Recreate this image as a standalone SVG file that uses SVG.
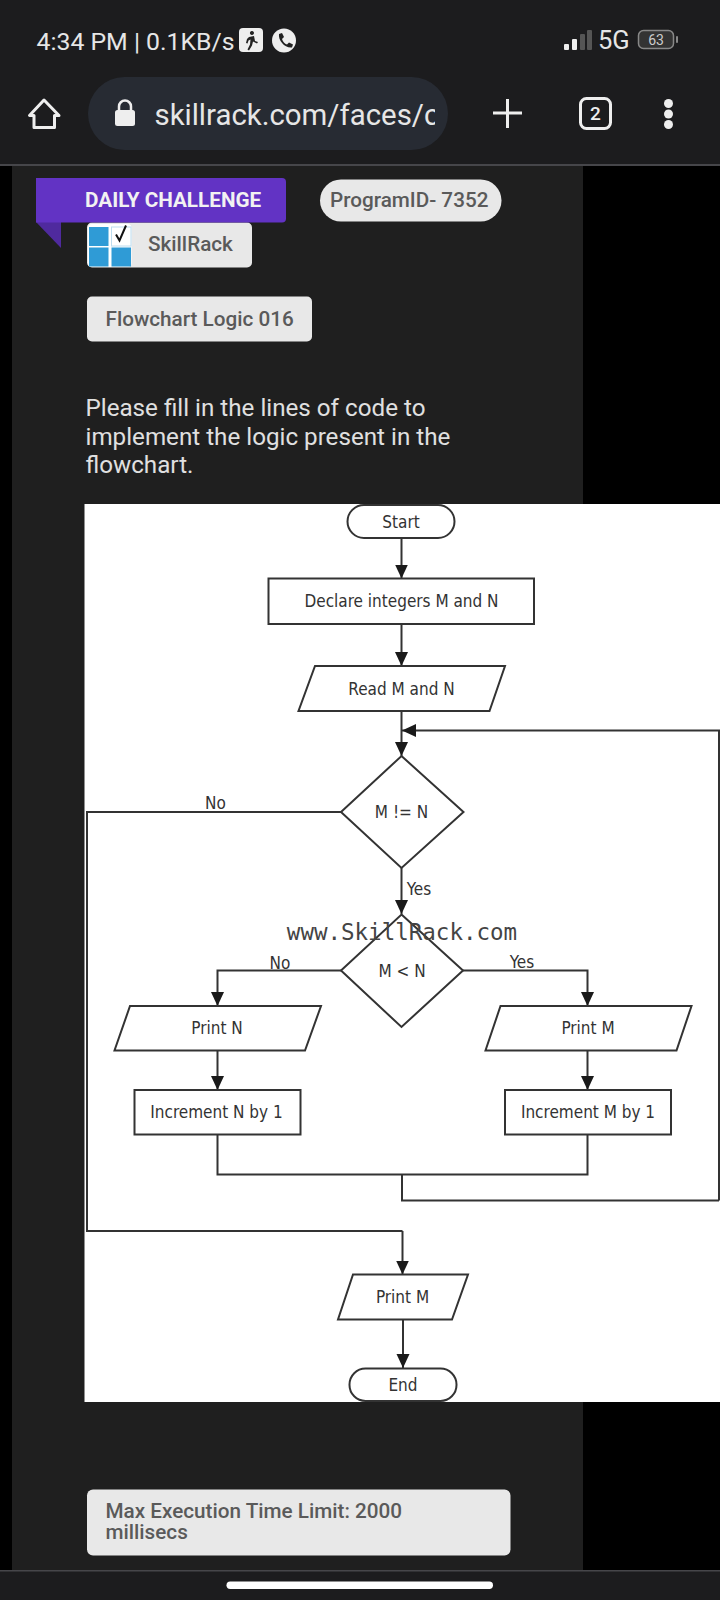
<svg xmlns="http://www.w3.org/2000/svg" width="720" height="1600" viewBox="0 0 720 1600">
<style>
.ui{font-family:Roboto,"Liberation Sans",sans-serif}
.chip{font-family:Roboto,"Liberation Sans",sans-serif;font-weight:500;fill:#5a5a5a;font-size:20.700px}
.box{fill:#e8e8e8}
.shape{fill:#fff;stroke:#333;stroke-width:2}
.fc{font-family:"DejaVu Sans Condensed","DejaVu Sans",sans-serif;font-stretch:condensed;font-size:17px;fill:#333;text-anchor:middle}
.lbl{font-family:"DejaVu Sans Condensed","DejaVu Sans",sans-serif;font-stretch:condensed;font-size:17px;fill:#333;text-anchor:middle}
.conn{fill:none;stroke:#333;stroke-width:2}
.arr{marker-end:url(#ah)}
.icon{fill:#eee}
</style>
<defs>
<marker id="ah" markerUnits="userSpaceOnUse" markerWidth="15" markerHeight="15" refX="14" refY="7" orient="auto"><path d="M0 0.500L14 7L0 13.500Z" fill="#1a1a1a"/></marker>
<clipPath id="urlclip"><rect x="150" y="90" width="285" height="50"/></clipPath>
</defs>
<rect width="720" height="1600" fill="#000"/>
<rect x="12" y="165" width="571" height="1406" fill="#1f1f1f"/>
<g id="statusbar">
<rect width="720" height="165" fill="#1c1c1e"/>
<rect y="164" width="720" height="2" fill="#46464a"/>
<text class="ui" x="36.500" y="50" font-size="24.800" fill="#e6e6e6">4:34 PM | 0.1KB/s</text>
<rect x="239" y="28" width="24" height="24" rx="4" fill="#eee"/>
<path d="M252 31a2 2 0 1 1-.1 0M249 37l5-1 1 5 3 1-1 1.500-4-2-1 4-3 5-1.500-1 2.500-5 .5-5-2 1-1 3-1.500-.5 1-4Z" fill="#222"/>
<circle cx="284" cy="40.500" r="12" fill="#eee"/>
<path d="M279 34l3-1 2 4-2 2c1 3 2.500 4.500 5 5.500l2-2 4 2-1 3c-7 1-14-7-13-13.500Z" fill="#222"/>
<rect x="564" y="44" width="5" height="6" rx="1" fill="#eee"/>
<rect x="572" y="39" width="5" height="11" rx="1" fill="#eee"/>
<rect x="580" y="34" width="5" height="16" rx="1" fill="#555"/>
<rect x="587" y="30" width="5" height="20" rx="1" fill="#555"/>
<text class="ui" x="598" y="49" font-size="25.500" fill="#e6e6e6">5G</text>
<rect x="638.500" y="30.500" width="35" height="18" rx="5" fill="#333" stroke="#888" stroke-width="1.500"/>
<text class="ui" x="656" y="45" font-size="14" fill="#ccc" text-anchor="middle">63</text>
<rect x="676" y="36" width="2" height="7" rx="1" fill="#888"/>
</g>
<g id="toolbar">
<path d="M44 100L29.500 115.500H34V127.500H54.500V115.500H59Z" fill="none" stroke="#eee" stroke-width="3" stroke-linejoin="round"/>
<rect x="88" y="77" width="360" height="73" rx="36.500" fill="#272b33"/>
<rect x="115" y="110" width="20" height="16" rx="2.500" class="icon"/>
<path d="M119 110v-3.500a6 6 0 0 1 12 0V110" fill="none" stroke="#eee" stroke-width="2.500"/>
<text class="ui" x="154.500" y="125" font-size="29.400" fill="#e6e6e6" clip-path="url(#urlclip)">skillrack.com/faces/c</text>
<path d="M493 113H522M507.500 99V128" stroke="#eee" stroke-width="3" fill="none"/>
<rect x="580.500" y="98.500" width="30" height="30" rx="6" fill="none" stroke="#eee" stroke-width="3"/>
<text class="ui" x="595.500" y="120" font-size="19" font-weight="500" fill="#eee" text-anchor="middle">2</text>
<circle cx="668.500" cy="103.500" r="4.500" class="icon"/>
<circle cx="668.500" cy="114" r="4.500" class="icon"/>
<circle cx="668.500" cy="124.500" r="4.500" class="icon"/>
</g>
<g id="skillrack">
<rect x="87" y="222.500" width="165" height="45" rx="5" class="box"/>
<rect x="88" y="224" width="43.500" height="43" rx="4" fill="#fff"/>
<rect x="89" y="227" width="19.500" height="19" fill="#2f9bd6"/>
<rect x="111.500" y="227" width="19.500" height="19" fill="#fff" stroke="#bcdcef"/>
<rect x="89" y="247.500" width="19.500" height="19" fill="#2f9bd6"/>
<rect x="111.500" y="247.500" width="19.500" height="19" fill="#2f9bd6"/>
<path d="M116 234.500l3.500 6 6.500-15" fill="none" stroke="#111" stroke-width="2"/>
<text class="chip" x="148" y="251">SkillRack</text>
</g>
<g id="daily-challenge">
<path d="M36 222L61 248V222Z" fill="#4f2a9e"/>
<path d="M36 178H282a4 4 0 0 1 4 4V218.500a4 4 0 0 1-4 4H36Z" fill="#6233c4"/>
<text class="ui" x="85" y="206.500" font-size="20.700" font-weight="700" fill="#f2f2f2">DAILY CHALLENGE</text>
</g>
<g id="program-id">
<rect x="320" y="179.500" width="181.500" height="42" rx="21" class="box"/>
<text class="chip" x="330" y="206.500">ProgramID- 7352</text>
</g>
<g id="flowchart-logic">
<rect x="87" y="296.500" width="225" height="45" rx="5" class="box"/>
<text class="chip" x="105.500" y="325.500">Flowchart Logic 016</text>
</g>
<g id="instructions" class="ui" font-size="24.200" fill="#e0e0e0">
<text x="85.500" y="416">Please fill in the lines of code to</text>
<text x="85.500" y="445">implement the logic present in the</text>
<text x="85.500" y="473">flowchart.</text>
</g>
<rect id="chart-bg" x="84.500" y="504" width="635.500" height="898" fill="#fff"/>
<g id="connectors">
<path class="conn arr" d="M401.500 538V578.500"/>
<path class="conn arr" d="M401.500 624V666"/>
<path class="conn arr" d="M401.500 711V756"/>
<path class="conn arr" d="M719 1200.500V730.500H402"/>
<path class="conn arr" d="M401.500 868V914"/>
<path class="conn" d="M341 812H87V1231H402.500"/>
<path class="conn arr" d="M402.500 1231V1274.500"/>
<path class="conn arr" d="M341 970.500H217.500V1006"/>
<path class="conn arr" d="M463 970.500H587.500V1006"/>
<path class="conn arr" d="M217.500 1050.500V1090"/>
<path class="conn arr" d="M587.500 1050.500V1090"/>
<path class="conn" d="M217.500 1134.500V1174.500H587.500V1134.500"/>
<path class="conn" d="M402 1174.500V1200.500H719"/>
<path class="conn arr" d="M403 1319.500V1368"/>
<text class="lbl" x="215.500" y="809">No</text>
<text class="lbl" x="419" y="895">Yes</text>
<text class="lbl" x="280" y="968.500">No</text>
<text class="lbl" x="522" y="968">Yes</text>
</g>
<g id="start"><rect class="shape" x="347.500" y="505" width="107" height="33" rx="16.500"/><text class="fc" x="401" y="528">Start</text></g>
<g id="declare"><rect class="shape" x="268.500" y="578.500" width="265.500" height="45.500"/><text class="fc" x="401.500" y="607">Declare integers M and N</text></g>
<g id="read"><path class="shape" d="M315 666H505L489.500 711H298.500Z"/><text class="fc" x="401.500" y="694.500">Read M and N</text></g>
<g id="cond-mn"><path class="shape" d="M401.500 756L463.500 812L401.500 868L341 812Z"/><text class="fc" x="401.500" y="818">M != N</text></g>
<g id="cond-lt"><path class="shape" d="M401.500 914.500L463 970.500L401.500 1027L341 970.500Z"/><text class="fc" x="402" y="977">M &lt; N</text></g>
<g id="print-n"><path class="shape" d="M130 1006H321L305 1050.500H114.500Z"/><text class="fc" x="217" y="1034">Print N</text></g>
<g id="print-m"><path class="shape" d="M500.500 1006H691.500L676.500 1050.500H485.500Z"/><text class="fc" x="588" y="1034">Print M</text></g>
<g id="inc-n"><rect class="shape" x="134.500" y="1090" width="166" height="44.500"/><text class="fc" x="216.500" y="1118">Increment N by 1</text></g>
<g id="inc-m"><rect class="shape" x="505" y="1090" width="166" height="44.500"/><text class="fc" x="588" y="1118">Increment M by 1</text></g>
<g id="print-m-end"><path class="shape" d="M353 1274.500H468L452 1319.500H338Z"/><text class="fc" x="402.500" y="1303">Print M</text></g>
<g id="end"><rect class="shape" x="349.500" y="1368.500" width="107" height="32.500" rx="16"/><text class="fc" x="403" y="1390.500">End</text></g>
<text id="watermark" x="402" y="939.500" font-family="'DejaVu Sans Mono',monospace" font-size="22.500" fill="#444" text-anchor="middle">www.SkillRack.com</text>
<g id="time-limit">
<rect x="87" y="1489.500" width="423.500" height="66" rx="6" class="box"/>
<text class="chip" x="105.500" y="1518">Max Execution Time Limit: 2000</text>
<text class="chip" x="105.500" y="1539">millisecs</text>
</g>
<g id="navbar">
<rect y="1570" width="720" height="30" fill="#1c1c1e"/>
<rect y="1570" width="720" height="1.500" fill="#46464a"/>
<rect x="226.500" y="1581.500" width="266.500" height="7.500" rx="3.700" fill="#fff"/>
</g>
</svg>
